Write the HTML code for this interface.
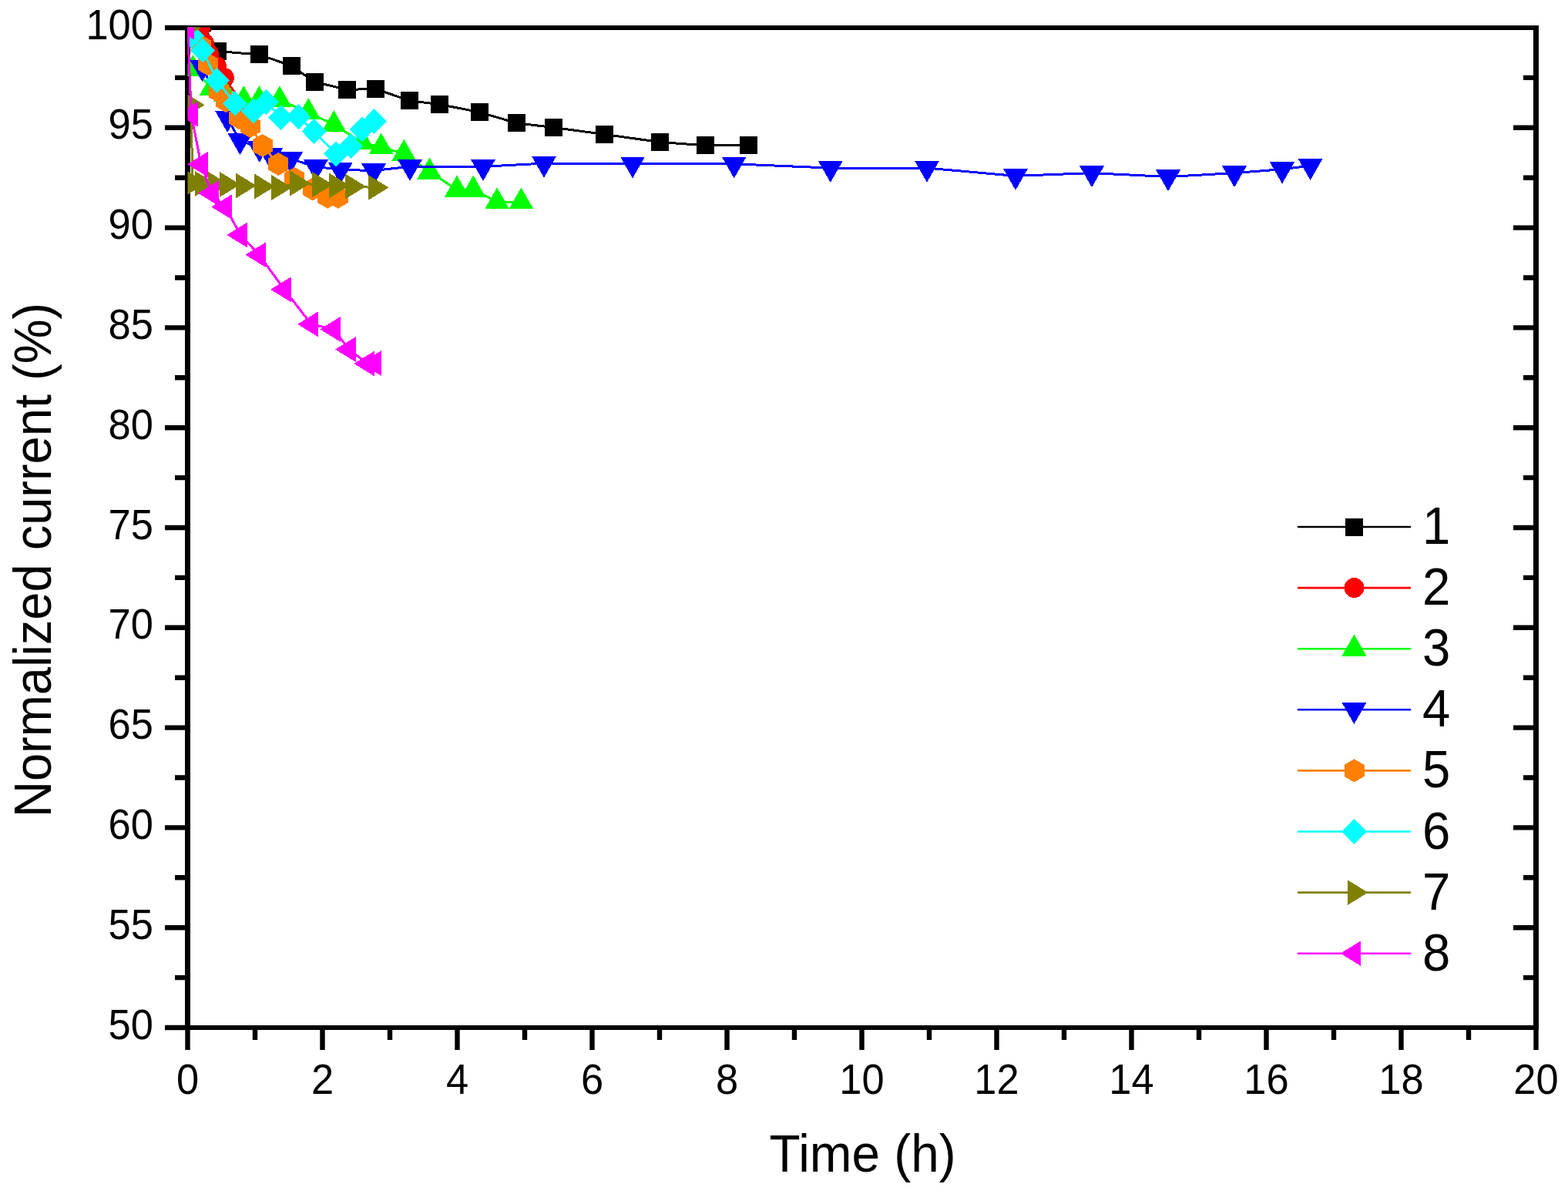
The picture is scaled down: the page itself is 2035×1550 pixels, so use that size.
<!DOCTYPE html>
<html><head><meta charset="utf-8"><title>Normalized current vs time</title>
<style>html,body{margin:0;padding:0;background:#fff;width:2035px;height:1550px;overflow:hidden}svg{display:block}</style>
</head><body>
<svg width="2035" height="1550" viewBox="0 0 2035 1550">
<rect width="2035" height="1550" fill="#fff"/>
<g stroke="#000" fill="none">
<line x1="243.5" y1="33.0" x2="243.5" y2="1337.0" stroke-width="7"/>
<line x1="1993.5" y1="33.0" x2="1993.5" y2="1337.0" stroke-width="7"/>
<line x1="240.0" y1="36.0" x2="1997.0" y2="36.0" stroke-width="6"/>
<line x1="240.0" y1="1334.0" x2="1997.0" y2="1334.0" stroke-width="6"/>
<path d="M243.5,1334.0H214.0M243.5,1269.1H227.0M1993.5,1269.1H1977.0M243.5,1204.2H214.0M1993.5,1204.2H1964.0M243.5,1139.3H227.0M1993.5,1139.3H1977.0M243.5,1074.4H214.0M1993.5,1074.4H1964.0M243.5,1009.5H227.0M1993.5,1009.5H1977.0M243.5,944.6H214.0M1993.5,944.6H1964.0M243.5,879.7H227.0M1993.5,879.7H1977.0M243.5,814.8H214.0M1993.5,814.8H1964.0M243.5,749.9H227.0M1993.5,749.9H1977.0M243.5,685.0H214.0M1993.5,685.0H1964.0M243.5,620.1H227.0M1993.5,620.1H1977.0M243.5,555.2H214.0M1993.5,555.2H1964.0M243.5,490.3H227.0M1993.5,490.3H1977.0M243.5,425.4H214.0M1993.5,425.4H1964.0M243.5,360.5H227.0M1993.5,360.5H1977.0M243.5,295.6H214.0M1993.5,295.6H1964.0M243.5,230.7H227.0M1993.5,230.7H1977.0M243.5,165.8H214.0M1993.5,165.8H1964.0M243.5,100.9H227.0M1993.5,100.9H1977.0M243.5,36.0H214.0M243.5,1334.0V1363.0M331.0,1334.0V1350.0M418.5,1334.0V1363.0M506.0,1334.0V1350.0M593.5,1334.0V1363.0M681.0,1334.0V1350.0M768.5,1334.0V1363.0M856.0,1334.0V1350.0M943.5,1334.0V1363.0M1031.0,1334.0V1350.0M1118.5,1334.0V1363.0M1206.0,1334.0V1350.0M1293.5,1334.0V1363.0M1381.0,1334.0V1350.0M1468.5,1334.0V1363.0M1556.0,1334.0V1350.0M1643.5,1334.0V1363.0M1731.0,1334.0V1350.0M1818.5,1334.0V1363.0M1906.0,1334.0V1350.0M1993.5,1334.0V1363.0" stroke-width="6.4" stroke-linecap="butt"/>
</g>
<g font-family="Liberation Sans, Arial, sans-serif" font-size="52.5" fill="#000">
<text transform="translate(199.0,1348.5) scale(1,1.045)" text-anchor="end">50</text>
<text transform="translate(199.0,1218.7) scale(1,1.045)" text-anchor="end">55</text>
<text transform="translate(199.0,1088.9) scale(1,1.045)" text-anchor="end">60</text>
<text transform="translate(199.0,959.1) scale(1,1.045)" text-anchor="end">65</text>
<text transform="translate(199.0,829.3) scale(1,1.045)" text-anchor="end">70</text>
<text transform="translate(199.0,699.5) scale(1,1.045)" text-anchor="end">75</text>
<text transform="translate(199.0,569.7) scale(1,1.045)" text-anchor="end">80</text>
<text transform="translate(199.0,439.9) scale(1,1.045)" text-anchor="end">85</text>
<text transform="translate(199.0,310.1) scale(1,1.045)" text-anchor="end">90</text>
<text transform="translate(199.0,180.3) scale(1,1.045)" text-anchor="end">95</text>
<text transform="translate(199.0,50.5) scale(1,1.045)" text-anchor="end">100</text>
<text transform="translate(243.5,1419.5) scale(1,1.045)" text-anchor="middle">0</text>
<text transform="translate(418.5,1419.5) scale(1,1.045)" text-anchor="middle">2</text>
<text transform="translate(593.5,1419.5) scale(1,1.045)" text-anchor="middle">4</text>
<text transform="translate(768.5,1419.5) scale(1,1.045)" text-anchor="middle">6</text>
<text transform="translate(943.5,1419.5) scale(1,1.045)" text-anchor="middle">8</text>
<text transform="translate(1118.5,1419.5) scale(1,1.045)" text-anchor="middle">10</text>
<text transform="translate(1293.5,1419.5) scale(1,1.045)" text-anchor="middle">12</text>
<text transform="translate(1468.5,1419.5) scale(1,1.045)" text-anchor="middle">14</text>
<text transform="translate(1643.5,1419.5) scale(1,1.045)" text-anchor="middle">16</text>
<text transform="translate(1818.5,1419.5) scale(1,1.045)" text-anchor="middle">18</text>
<text transform="translate(1993.5,1419.5) scale(1,1.045)" text-anchor="middle">20</text>
</g>
<text transform="translate(1119.5,1521.0) scale(1,1.045)" text-anchor="middle" font-family="Liberation Sans, Arial, sans-serif" font-size="65.7">Time (h)</text>
<text transform="translate(66.0,727.0) rotate(-90) scale(1,1.045)" text-anchor="middle" font-family="Liberation Sans, Arial, sans-serif" font-size="65.0">Normalized current (%)</text>
<defs><clipPath id="c"><rect x="243.5" y="35.5" width="1750.0" height="1298.0"/></clipPath></defs>
<g clip-path="url(#c)" shape-rendering="crispEdges">
<path d="M262.0,29.5 L282.3,66.5 L336.3,70.9 L378.5,85.5 L408.0,106.4 L450.9,116.4 L487.4,115.4 L531.9,130.8 L570.9,135.6 L622.0,145.5 L670.0,159.7 L718.4,165.5 L784.5,174.4 L856.4,184.5 L915.5,188.8 L971.5,188.8" stroke="#000000" stroke-width="3.0" fill="none" stroke-linejoin="round"/>
<rect x="250.5" y="18.0" width="23.0" height="23.0" fill="#000000"/>
<rect x="270.8" y="55.0" width="23.0" height="23.0" fill="#000000"/>
<rect x="324.8" y="59.4" width="23.0" height="23.0" fill="#000000"/>
<rect x="367.0" y="74.0" width="23.0" height="23.0" fill="#000000"/>
<rect x="396.5" y="94.9" width="23.0" height="23.0" fill="#000000"/>
<rect x="439.4" y="104.9" width="23.0" height="23.0" fill="#000000"/>
<rect x="475.9" y="103.9" width="23.0" height="23.0" fill="#000000"/>
<rect x="520.4" y="119.3" width="23.0" height="23.0" fill="#000000"/>
<rect x="559.4" y="124.1" width="23.0" height="23.0" fill="#000000"/>
<rect x="610.5" y="134.0" width="23.0" height="23.0" fill="#000000"/>
<rect x="658.5" y="148.2" width="23.0" height="23.0" fill="#000000"/>
<rect x="706.9" y="154.0" width="23.0" height="23.0" fill="#000000"/>
<rect x="773.0" y="162.9" width="23.0" height="23.0" fill="#000000"/>
<rect x="844.9" y="173.0" width="23.0" height="23.0" fill="#000000"/>
<rect x="904.0" y="177.3" width="23.0" height="23.0" fill="#000000"/>
<rect x="960.0" y="177.3" width="23.0" height="23.0" fill="#000000"/>
<path d="M259.9,36.0 L264.8,56.0 L271.0,70.0 L281.0,86.0 L290.9,101.0 L318.0,138.0" stroke="#FF0000" stroke-width="3.0" fill="none" stroke-linejoin="round"/>
<circle cx="259.9" cy="36.0" r="13" fill="#FF0000"/>
<circle cx="264.8" cy="56.0" r="13" fill="#FF0000"/>
<circle cx="271.0" cy="70.0" r="13" fill="#FF0000"/>
<circle cx="281.0" cy="86.0" r="13" fill="#FF0000"/>
<circle cx="290.9" cy="101.0" r="13" fill="#FF0000"/>
<circle cx="318.0" cy="138.0" r="13" fill="#FF0000"/>
<path d="M250.5,89.7 L274.8,114.4 L293.0,123.0 L316.2,129.9 L336.4,129.9 L362.9,129.9 L400.2,145.9 L433.4,161.9 L470.0,185.0 L494.6,191.1 L524.3,199.4 L557.5,223.2 L593.0,246.2 L614.1,246.2 L645.1,262.1 L676.4,262.1" stroke="#00FF00" stroke-width="3.0" fill="none" stroke-linejoin="round"/>
<polygon points="250.5,71.0 266.5,99.0 234.5,99.0" fill="#00FF00"/>
<polygon points="274.8,95.7 290.8,123.7 258.8,123.7" fill="#00FF00"/>
<polygon points="293.0,104.3 309.0,132.3 277.0,132.3" fill="#00FF00"/>
<polygon points="316.2,111.2 332.2,139.2 300.2,139.2" fill="#00FF00"/>
<polygon points="336.4,111.2 352.4,139.2 320.4,139.2" fill="#00FF00"/>
<polygon points="362.9,111.2 378.9,139.2 346.9,139.2" fill="#00FF00"/>
<polygon points="400.2,127.2 416.2,155.2 384.2,155.2" fill="#00FF00"/>
<polygon points="433.4,143.2 449.4,171.2 417.4,171.2" fill="#00FF00"/>
<polygon points="470.0,166.3 486.0,194.3 454.0,194.3" fill="#00FF00"/>
<polygon points="494.6,172.4 510.6,200.4 478.6,200.4" fill="#00FF00"/>
<polygon points="524.3,180.7 540.3,208.7 508.3,208.7" fill="#00FF00"/>
<polygon points="557.5,204.5 573.5,232.5 541.5,232.5" fill="#00FF00"/>
<polygon points="593.0,227.5 609.0,255.5 577.0,255.5" fill="#00FF00"/>
<polygon points="614.1,227.5 630.1,255.5 598.1,255.5" fill="#00FF00"/>
<polygon points="645.1,243.4 661.1,271.4 629.1,271.4" fill="#00FF00"/>
<polygon points="676.4,243.4 692.4,271.4 660.4,271.4" fill="#00FF00"/>
<path d="M262.5,87.3 L295.1,153.3 L311.5,182.4 L336.8,192.1 L351.2,201.3 L377.2,206.3 L409.9,216.4 L441.7,220.3 L485.1,221.5 L532.0,216.3 L627.0,216.3 L706.0,212.1 L821.0,212.8 L952.7,212.8 L1077.8,218.1 L1203.0,218.1 L1318.0,228.4 L1417.0,224.6 L1516.0,229.5 L1602.0,224.6 L1664.0,219.7 L1700.6,215.3" stroke="#0000FF" stroke-width="3.0" fill="none" stroke-linejoin="round"/>
<polygon points="262.5,106.0 278.5,78.0 246.5,78.0" fill="#0000FF"/>
<polygon points="295.1,172.0 311.1,144.0 279.1,144.0" fill="#0000FF"/>
<polygon points="311.5,201.1 327.5,173.1 295.5,173.1" fill="#0000FF"/>
<polygon points="336.8,210.8 352.8,182.8 320.8,182.8" fill="#0000FF"/>
<polygon points="351.2,220.0 367.2,192.0 335.2,192.0" fill="#0000FF"/>
<polygon points="377.2,225.0 393.2,197.0 361.2,197.0" fill="#0000FF"/>
<polygon points="409.9,235.1 425.9,207.1 393.9,207.1" fill="#0000FF"/>
<polygon points="441.7,239.0 457.7,211.0 425.7,211.0" fill="#0000FF"/>
<polygon points="485.1,240.2 501.1,212.2 469.1,212.2" fill="#0000FF"/>
<polygon points="532.0,235.0 548.0,207.0 516.0,207.0" fill="#0000FF"/>
<polygon points="627.0,235.0 643.0,207.0 611.0,207.0" fill="#0000FF"/>
<polygon points="706.0,230.8 722.0,202.8 690.0,202.8" fill="#0000FF"/>
<polygon points="821.0,231.5 837.0,203.5 805.0,203.5" fill="#0000FF"/>
<polygon points="952.7,231.5 968.7,203.5 936.7,203.5" fill="#0000FF"/>
<polygon points="1077.8,236.8 1093.8,208.8 1061.8,208.8" fill="#0000FF"/>
<polygon points="1203.0,236.8 1219.0,208.8 1187.0,208.8" fill="#0000FF"/>
<polygon points="1318.0,247.1 1334.0,219.1 1302.0,219.1" fill="#0000FF"/>
<polygon points="1417.0,243.3 1433.0,215.3 1401.0,215.3" fill="#0000FF"/>
<polygon points="1516.0,248.2 1532.0,220.2 1500.0,220.2" fill="#0000FF"/>
<polygon points="1602.0,243.3 1618.0,215.3 1586.0,215.3" fill="#0000FF"/>
<polygon points="1664.0,238.4 1680.0,210.4 1648.0,210.4" fill="#0000FF"/>
<polygon points="1700.6,234.0 1716.6,206.0 1684.6,206.0" fill="#0000FF"/>
<path d="M260.9,60.0 L270.1,83.5 L284.1,118.8 L293.1,131.0 L310.0,153.0 L324.8,164.0 L340.6,189.0 L361.3,213.0 L382.3,232.0 L405.8,245.5 L425.2,255.7 L438.6,255.7" stroke="#FF8000" stroke-width="3.0" fill="none" stroke-linejoin="round"/>
<polygon points="260.9,45.0 273.9,52.5 273.9,67.5 260.9,75.0 247.9,67.5 247.9,52.5" fill="#FF8000"/>
<polygon points="270.1,68.5 283.1,76.0 283.1,91.0 270.1,98.5 257.1,91.0 257.1,76.0" fill="#FF8000"/>
<polygon points="284.1,103.8 297.1,111.3 297.1,126.3 284.1,133.8 271.1,126.3 271.1,111.3" fill="#FF8000"/>
<polygon points="293.1,116.0 306.1,123.5 306.1,138.5 293.1,146.0 280.1,138.5 280.1,123.5" fill="#FF8000"/>
<polygon points="310.0,138.0 323.0,145.5 323.0,160.5 310.0,168.0 297.0,160.5 297.0,145.5" fill="#FF8000"/>
<polygon points="324.8,149.0 337.8,156.5 337.8,171.5 324.8,179.0 311.8,171.5 311.8,156.5" fill="#FF8000"/>
<polygon points="340.6,174.0 353.6,181.5 353.6,196.5 340.6,204.0 327.6,196.5 327.6,181.5" fill="#FF8000"/>
<polygon points="361.3,198.0 374.3,205.5 374.3,220.5 361.3,228.0 348.3,220.5 348.3,205.5" fill="#FF8000"/>
<polygon points="382.3,217.0 395.3,224.5 395.3,239.5 382.3,247.0 369.3,239.5 369.3,224.5" fill="#FF8000"/>
<polygon points="405.8,230.5 418.8,238.0 418.8,253.0 405.8,260.5 392.8,253.0 392.8,238.0" fill="#FF8000"/>
<polygon points="425.2,240.7 438.2,248.2 438.2,263.2 425.2,270.7 412.2,263.2 412.2,248.2" fill="#FF8000"/>
<polygon points="438.6,240.7 451.6,248.2 451.6,263.2 438.6,270.7 425.6,263.2 425.6,248.2" fill="#FF8000"/>
<path d="M248.9,46.5 L263.0,65.5 L281.8,104.6 L304.9,134.4 L329.0,144.0 L345.7,132.6 L364.4,152.5 L387.5,151.6 L407.6,170.5 L436.1,199.9 L455.3,189.6 L469.8,168.0 L485.7,157.5" stroke="#00FFFF" stroke-width="3.0" fill="none" stroke-linejoin="round"/>
<polygon points="248.9,30.0 264.9,46.5 248.9,63.0 232.9,46.5" fill="#00FFFF"/>
<polygon points="263.0,49.0 279.0,65.5 263.0,82.0 247.0,65.5" fill="#00FFFF"/>
<polygon points="281.8,88.1 297.8,104.6 281.8,121.1 265.8,104.6" fill="#00FFFF"/>
<polygon points="304.9,117.9 320.9,134.4 304.9,150.9 288.9,134.4" fill="#00FFFF"/>
<polygon points="329.0,127.5 345.0,144.0 329.0,160.5 313.0,144.0" fill="#00FFFF"/>
<polygon points="345.7,116.1 361.7,132.6 345.7,149.1 329.7,132.6" fill="#00FFFF"/>
<polygon points="364.4,136.0 380.4,152.5 364.4,169.0 348.4,152.5" fill="#00FFFF"/>
<polygon points="387.5,135.1 403.5,151.6 387.5,168.1 371.5,151.6" fill="#00FFFF"/>
<polygon points="407.6,154.0 423.6,170.5 407.6,187.0 391.6,170.5" fill="#00FFFF"/>
<polygon points="436.1,183.4 452.1,199.9 436.1,216.4 420.1,199.9" fill="#00FFFF"/>
<polygon points="455.3,173.1 471.3,189.6 455.3,206.1 439.3,189.6" fill="#00FFFF"/>
<polygon points="469.8,151.5 485.8,168.0 469.8,184.5 453.8,168.0" fill="#00FFFF"/>
<polygon points="485.7,141.0 501.7,157.5 485.7,174.0 469.7,157.5" fill="#00FFFF"/>
<path d="M243.5,35.5 L247.8,136.3 L250.0,237.5 L261.9,238.5 L279.1,239.5 L293.9,239.5 L314.9,241.0 L339.0,242.0 L361.0,243.5 L385.1,237.9 L414.1,239.7 L435.9,240.9 L456.9,242.0 L486.5,243.5" stroke="#808000" stroke-width="3.0" fill="none" stroke-linejoin="round"/>
<polygon points="261.4,35.5 234.6,19.0 234.6,52.0" fill="#808000"/>
<polygon points="265.7,136.3 238.9,119.8 238.9,152.8" fill="#808000"/>
<polygon points="267.9,237.5 241.1,221.0 241.1,254.0" fill="#808000"/>
<polygon points="279.8,238.5 253.0,222.0 253.0,255.0" fill="#808000"/>
<polygon points="297.0,239.5 270.2,223.0 270.2,256.0" fill="#808000"/>
<polygon points="311.8,239.5 285.0,223.0 285.0,256.0" fill="#808000"/>
<polygon points="332.8,241.0 306.0,224.5 306.0,257.5" fill="#808000"/>
<polygon points="356.9,242.0 330.1,225.5 330.1,258.5" fill="#808000"/>
<polygon points="378.9,243.5 352.1,227.0 352.1,260.0" fill="#808000"/>
<polygon points="403.0,237.9 376.2,221.4 376.2,254.4" fill="#808000"/>
<polygon points="432.0,239.7 405.2,223.2 405.2,256.2" fill="#808000"/>
<polygon points="453.8,240.9 427.0,224.4 427.0,257.4" fill="#808000"/>
<polygon points="474.8,242.0 448.0,225.5 448.0,258.5" fill="#808000"/>
<polygon points="504.4,243.5 477.6,227.0 477.6,260.0" fill="#808000"/>
<path d="M243.5,35.5 L248.1,148.3 L260.9,213.3 L274.9,250.8 L292.3,268.6 L312.2,305.1 L336.3,330.8 L369.0,375.8 L404.0,420.9 L433.1,427.4 L453.0,453.6 L477.1,472.0 L486.1,471.5" stroke="#FF00FF" stroke-width="3.0" fill="none" stroke-linejoin="round"/>
<polygon points="225.6,35.5 252.4,19.0 252.4,52.0" fill="#FF00FF"/>
<polygon points="230.2,148.3 257.0,131.8 257.0,164.8" fill="#FF00FF"/>
<polygon points="243.0,213.3 269.8,196.8 269.8,229.8" fill="#FF00FF"/>
<polygon points="257.0,250.8 283.8,234.3 283.8,267.3" fill="#FF00FF"/>
<polygon points="274.4,268.6 301.2,252.1 301.2,285.1" fill="#FF00FF"/>
<polygon points="294.3,305.1 321.1,288.6 321.1,321.6" fill="#FF00FF"/>
<polygon points="318.4,330.8 345.2,314.3 345.2,347.3" fill="#FF00FF"/>
<polygon points="351.1,375.8 377.9,359.3 377.9,392.3" fill="#FF00FF"/>
<polygon points="386.1,420.9 412.9,404.4 412.9,437.4" fill="#FF00FF"/>
<polygon points="415.2,427.4 442.0,410.9 442.0,443.9" fill="#FF00FF"/>
<polygon points="435.1,453.6 461.9,437.1 461.9,470.1" fill="#FF00FF"/>
<polygon points="459.2,472.0 486.0,455.5 486.0,488.5" fill="#FF00FF"/>
<polygon points="468.2,471.5 495.0,455.0 495.0,488.0" fill="#FF00FF"/>
</g>
<line x1="1685" y1="684.0" x2="1830" y2="684.0" stroke="#000000" stroke-width="2.6" stroke-linecap="round"/>
<g shape-rendering="crispEdges"><rect x="1746.0" y="672.5" width="23.0" height="23.0" fill="#000000"/></g>
<text transform="translate(1846,706.0) scale(1,1.045)" font-family="Liberation Sans, Arial, sans-serif" font-size="65.3">1</text>
<line x1="1685" y1="763.1" x2="1830" y2="763.1" stroke="#FF0000" stroke-width="2.6" stroke-linecap="round"/>
<g shape-rendering="crispEdges"><circle cx="1757.5" cy="763.1" r="13" fill="#FF0000"/></g>
<text transform="translate(1846,785.1) scale(1,1.045)" font-family="Liberation Sans, Arial, sans-serif" font-size="65.3">2</text>
<line x1="1685" y1="842.2" x2="1830" y2="842.2" stroke="#00FF00" stroke-width="2.6" stroke-linecap="round"/>
<g shape-rendering="crispEdges"><polygon points="1757.5,823.5 1773.5,851.5 1741.5,851.5" fill="#00FF00"/></g>
<text transform="translate(1846,864.2) scale(1,1.045)" font-family="Liberation Sans, Arial, sans-serif" font-size="65.3">3</text>
<line x1="1685" y1="921.3" x2="1830" y2="921.3" stroke="#0000FF" stroke-width="2.6" stroke-linecap="round"/>
<g shape-rendering="crispEdges"><polygon points="1757.5,940.0 1773.5,912.0 1741.5,912.0" fill="#0000FF"/></g>
<text transform="translate(1846,943.3) scale(1,1.045)" font-family="Liberation Sans, Arial, sans-serif" font-size="65.3">4</text>
<line x1="1685" y1="1000.4" x2="1830" y2="1000.4" stroke="#FF8000" stroke-width="2.6" stroke-linecap="round"/>
<g shape-rendering="crispEdges"><polygon points="1757.5,985.4 1770.5,992.9 1770.5,1007.9 1757.5,1015.4 1744.5,1007.9 1744.5,992.9" fill="#FF8000"/></g>
<text transform="translate(1846,1022.4) scale(1,1.045)" font-family="Liberation Sans, Arial, sans-serif" font-size="65.3">5</text>
<line x1="1685" y1="1079.5" x2="1830" y2="1079.5" stroke="#00FFFF" stroke-width="2.6" stroke-linecap="round"/>
<g shape-rendering="crispEdges"><polygon points="1757.5,1063.0 1773.5,1079.5 1757.5,1096.0 1741.5,1079.5" fill="#00FFFF"/></g>
<text transform="translate(1846,1101.5) scale(1,1.045)" font-family="Liberation Sans, Arial, sans-serif" font-size="65.3">6</text>
<line x1="1685" y1="1158.6" x2="1830" y2="1158.6" stroke="#808000" stroke-width="2.6" stroke-linecap="round"/>
<g shape-rendering="crispEdges"><polygon points="1775.4,1158.6 1748.6,1142.1 1748.6,1175.1" fill="#808000"/></g>
<text transform="translate(1846,1180.6) scale(1,1.045)" font-family="Liberation Sans, Arial, sans-serif" font-size="65.3">7</text>
<line x1="1685" y1="1237.7" x2="1830" y2="1237.7" stroke="#FF00FF" stroke-width="2.6" stroke-linecap="round"/>
<g shape-rendering="crispEdges"><polygon points="1739.6,1237.7 1766.4,1221.2 1766.4,1254.2" fill="#FF00FF"/></g>
<text transform="translate(1846,1259.7) scale(1,1.045)" font-family="Liberation Sans, Arial, sans-serif" font-size="65.3">8</text>
</svg>
</body></html>
